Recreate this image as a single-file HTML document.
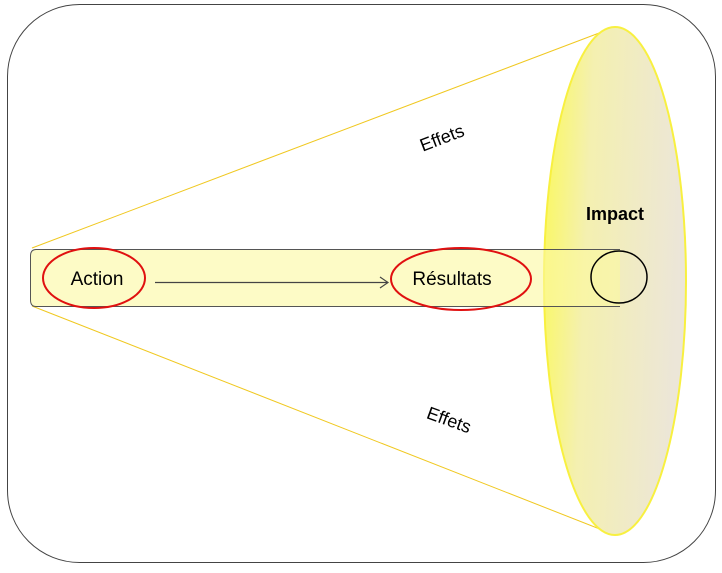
<!DOCTYPE html>
<html><head><meta charset="utf-8"><style>body{margin:0;background:#fff}</style></head><body>
<svg width="722" height="568" viewBox="0 0 722 568" xmlns="http://www.w3.org/2000/svg" font-family="Liberation Sans, sans-serif">
<defs>
<linearGradient id="g" x1="0" y1="0" x2="1" y2="0.15">
<stop offset="0" stop-color="#fbf95a"/><stop offset="0.35" stop-color="#f4f0b0"/><stop offset="1" stop-color="#ece6d8"/>
</linearGradient>
</defs>
<rect x="7.5" y="4.5" width="708" height="558" rx="72" fill="#fff" stroke="#444" stroke-width="1"/>
<line x1="32" y1="248" x2="615" y2="27" stroke="#f0c820" stroke-width="1"/>
<line x1="32" y1="306" x2="615" y2="535" stroke="#f0c820" stroke-width="1"/>
<ellipse cx="615" cy="281" rx="71" ry="254" fill="url(#g)" stroke="#f8f040" stroke-width="2"/>
<path d="M620 249.5 V306.5 H36 Q30.5 306.5 30.5 300 V256 Q30.5 249.5 36 249.5Z" fill="#fbf8a0" fill-opacity="0.6" stroke="none"/>
<path d="M620 249.5 H36 Q30.5 249.5 30.5 256 V300 Q30.5 306.5 36 306.5 H620" fill="none" stroke="#555" stroke-width="1"/>
<ellipse cx="94" cy="278" rx="51" ry="30" fill="none" stroke="#e01010" stroke-width="2"/>
<ellipse cx="461" cy="279" rx="70" ry="31" fill="none" stroke="#e01010" stroke-width="2"/>
<ellipse cx="619" cy="277" rx="28" ry="26" fill="none" stroke="#000" stroke-width="1.5"/>
<line x1="155" y1="282.5" x2="388" y2="282.5" stroke="#444" stroke-width="1.2"/>
<path d="M380 277 L388 282.5 L380 288" fill="none" stroke="#444" stroke-width="1.2"/>
<text x="97" y="285" font-size="19" text-anchor="middle">Action</text>
<text x="452" y="285" font-size="19" text-anchor="middle">Résultats</text>
<text x="615" y="220" font-size="18" font-weight="bold" text-anchor="middle">Impact</text>
<text x="442" y="144" font-size="18" text-anchor="middle" transform="rotate(-21 442 138)">Effets</text>
<text x="449" y="426" font-size="18" text-anchor="middle" transform="rotate(20 449 420)">Effets</text>
</svg>
</body></html>
